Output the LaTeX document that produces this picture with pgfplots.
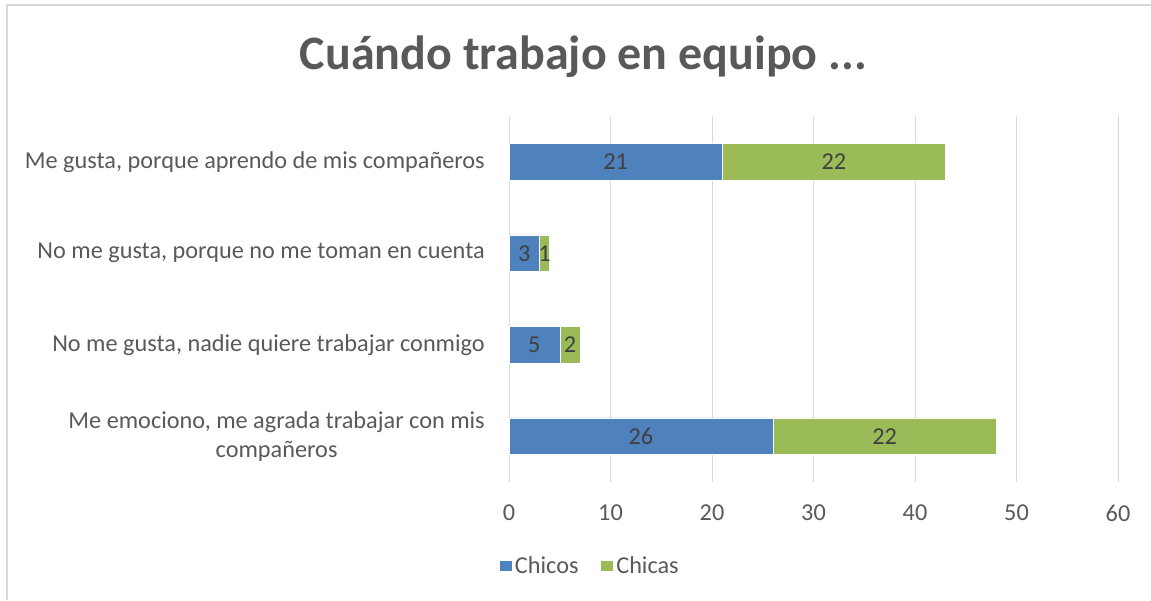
\documentclass[border=0pt]{standalone}
\usepackage{fontspec}
\setmainfont{Carlito}
\usepackage{pgfplots}
\pgfplotsset{compat=1.18}
\definecolor{chicos}{HTML}{4F81BD}
\definecolor{chicas}{HTML}{9BBB59}
\definecolor{txt}{HTML}{595959}
\definecolor{lbl}{HTML}{404040}
\definecolor{grd}{HTML}{D9D9D9}

\begin{document}
\begin{tikzpicture}
% page = 1151x600 px, 1 px = 0.75pt
\path[use as bounding box] (0,0) rectangle (863.25pt,450pt);
\draw[grd, line width=1.1pt] (5.25pt,0pt) -- (5.25pt,446.25pt) -- (863.25pt,446.25pt);
\node[txt, anchor=base, font=\fontsize{36}{43}\selectfont\bfseries] at (437.5pt,397.5pt) {Cuándo trabajo en equipo ...};
\begin{axis}[
    at={(381.75pt,88.5pt)}, anchor=south west,
    scale only axis,
    width=456.75pt, height=274.5pt,
    xbar stacked,
    bar width=0.4,
    xmin=0, xmax=60,
    ymin=-0.5, ymax=3.5,
    xtick={0,10,...,60},
    ytick={0,1,2,3},
    yticklabels={{Me emociono, me agrada trabajar con mis\\compañeros},
        {No me gusta, nadie quiere trabajar conmigo},
        {No me gusta, porque no me toman en cuenta},
        {Me gusta, porque aprendo de mis compañeros}},
    yticklabel style={align=center, inner sep=0pt, xshift=-18pt},
    xticklabel style={inner sep=0pt, anchor=north, yshift=-17pt},
    ticklabel style={font=\fontsize{18.2}{21.5}\selectfont, text=txt},
    /pgf/number format/assume math mode=true,
    major tick length=0pt,
    axis line style={draw=none},
    xmajorgrids,
    grid style={grd, line width=0.75pt},
    visualization depends on=rawx\as\rawx,
    nodes near coords={\pgfmathprintnumber{\rawx}},
    every node near coord/.append style={anchor=center, text=lbl,
        font=\fontsize{18.2}{21.5}\selectfont},
    every axis plot post/.append style={
        legend image code/.code={\fill[##1] (0pt,-4pt) rectangle (10pt,4pt);}},
    legend columns=2,
    legend style={draw=none, at={(0.133,-0.2295)}, anchor=center,
        font=\fontsize{18.2}{21.5}\selectfont, text=txt,
        /tikz/every even column/.append style={column sep=14pt}},
]
\addplot[fill=chicos, draw=white, line width=0.3pt] coordinates {(26,0) (5,1) (3,2) (21,3)};
\addlegendentry{Chicos}
\addplot[fill=chicas, draw=white, line width=0.3pt] coordinates {(22,0) (2,1) (1,2) (22,3)};
\addlegendentry{Chicas}
\end{axis}
\end{tikzpicture}
\end{document}
